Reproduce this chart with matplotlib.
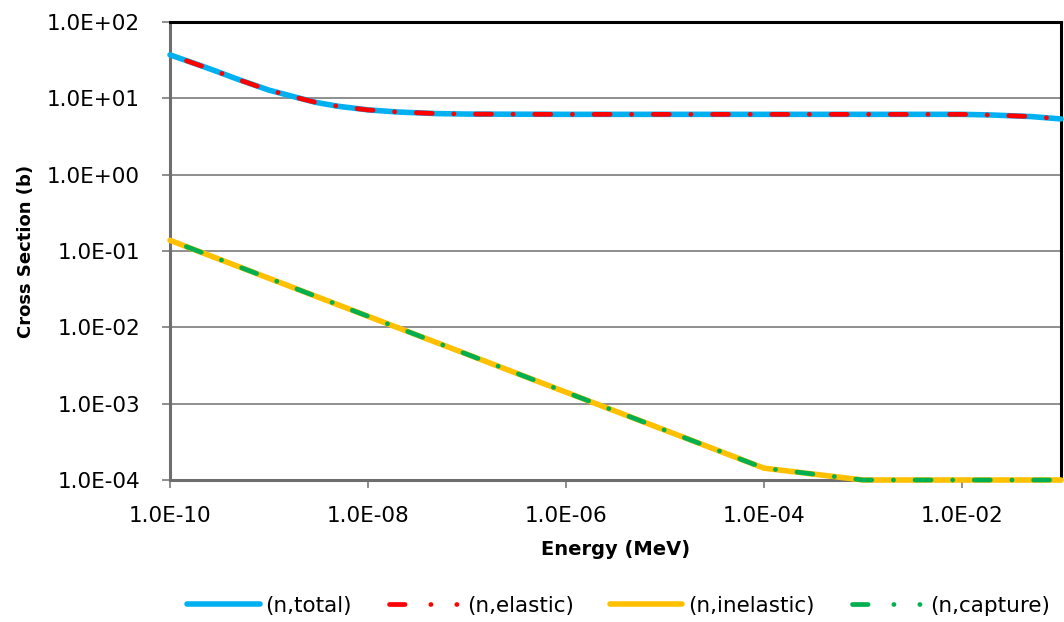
import matplotlib
matplotlib.use('Agg')
import matplotlib.pyplot as plt
from matplotlib.lines import Line2D
from matplotlib.ticker import FixedLocator, FuncFormatter, NullLocator

# ---- data ----
energy_total = [1e-10, 2e-10, 3e-10, 5e-10, 1e-9, 2e-9, 3e-9, 5e-9, 1e-8, 2e-8,
                5e-8, 1e-7, 1e-6, 1e-5, 1e-4, 1e-3, 1e-2, 2e-2, 5e-2, 1e-1]
sigma_total = [37.1, 27.1, 22.4, 17.5, 12.8, 10.1, 8.83, 7.87, 7.06, 6.62,
               6.31, 6.22, 6.17, 6.17, 6.17, 6.17, 6.17, 6.05, 5.77, 5.37]
sigma_elastic = [37.0, 27.0, 22.3, 17.45, 12.77, 10.08, 8.82, 7.86, 7.05, 6.62,
                 6.31, 6.22, 6.17, 6.17, 6.17, 6.17, 6.17, 6.05, 5.77, 5.37]
energy_low = [1e-10, 1e-4, 1e-3, 1e-2, 1e-1]
sigma_inelastic = [0.138, 1.43e-4, 1e-4, 1e-4, 1e-4]
sigma_capture = [0.138, 1.43e-4, 1e-4, 1e-4, 1e-4]

x_ticks = [1e-10, 1e-8, 1e-6, 1e-4, 1e-2]
y_ticks = [1e-4, 1e-3, 1e-2, 1e-1, 1e0, 1e1, 1e2]
labels = ['(n,total)', '(n,elastic)', '(n,inelastic)', '(n,capture)']
colors = ['#00B0F0', '#FF0000', '#FFC000', '#00B050']

plt.rcParams['font.family'] = ['DejaVu Sans']
fs = 15.5

fig = plt.figure(figsize=(10.64, 6.22), dpi=100)
ax = fig.add_axes([170 / 1064, 1 - 480 / 622, (1061 - 170) / 1064, (480 - 22) / 622])

dash = (8.85, (3.4, 4.55, 0.05, 4.55))
ax.plot(energy_total, sigma_total, color=colors[0], lw=4.0,
        solid_capstyle='round', zorder=3, clip_on=False)
ax.plot(energy_total, sigma_elastic, color=colors[1], lw=3.4, ls=dash,
        dash_capstyle='round', zorder=4, clip_on=False)
ax.plot(energy_low, sigma_inelastic, color=colors[2], lw=4.0,
        solid_capstyle='round', zorder=3, clip_on=False)
ax.plot(energy_low, sigma_capture, color=colors[3], lw=3.4, ls=dash,
        dash_capstyle='round', zorder=4, clip_on=False)

ax.set_xscale('log')
ax.set_yscale('log')
ax.set_xlim(1e-10, 1e-1)
ax.set_ylim(1e-4, 1e2)

ax.xaxis.set_major_locator(FixedLocator(x_ticks))
ax.xaxis.set_minor_locator(NullLocator())
ax.yaxis.set_major_locator(FixedLocator(y_ticks))
ax.yaxis.set_minor_locator(NullLocator())
fmt = FuncFormatter(lambda v, p: f"{v:.1E}")
ax.xaxis.set_major_formatter(fmt)
ax.yaxis.set_major_formatter(fmt)

ax.grid(axis='y', color='#868686', lw=1.3, zorder=1)
ax.tick_params(axis='both', which='major', direction='out', length=6,
               width=1.3, color='#868686', labelsize=fs, labelcolor='black')
ax.tick_params(axis='x', pad=13)
ax.tick_params(axis='y', pad=15.5)

for s in ['left', 'bottom']:
    ax.spines[s].set_color('#6e6e6e')
    ax.spines[s].set_linewidth(2.2)
for s in ['top', 'right']:
    ax.spines[s].set_color('black')
    ax.spines[s].set_linewidth(2.2)

ax.set_xlabel('Energy (MeV)', fontsize=14, fontweight='bold', labelpad=10)
ax.set_ylabel('Cross Section (b)', fontsize=13, fontweight='bold', labelpad=9)

# legend proxies (Excel shows the dashed entries as dash-dot-dot)
leg_dash = (0, (3.3, 5.45, 0.05, 5.45, 0.05, 8))
handles = [
    Line2D([], [], color=colors[0], lw=4.0, solid_capstyle='round'),
    Line2D([], [], color=colors[1], lw=3.4, ls=leg_dash, dash_capstyle='round'),
    Line2D([], [], color=colors[2], lw=4.0, solid_capstyle='round'),
    Line2D([], [], color=colors[3], lw=3.4, ls=leg_dash, dash_capstyle='round'),
]
fig.legend(handles, labels, loc='center', bbox_to_anchor=(618.5 / 1064, 1 - 606 / 622),
           ncol=4, frameon=False, fontsize=fs, handlelength=3.35, handletextpad=0.28,
           columnspacing=1.7, borderpad=0, borderaxespad=0)

fig.savefig('out.png', dpi=100)
